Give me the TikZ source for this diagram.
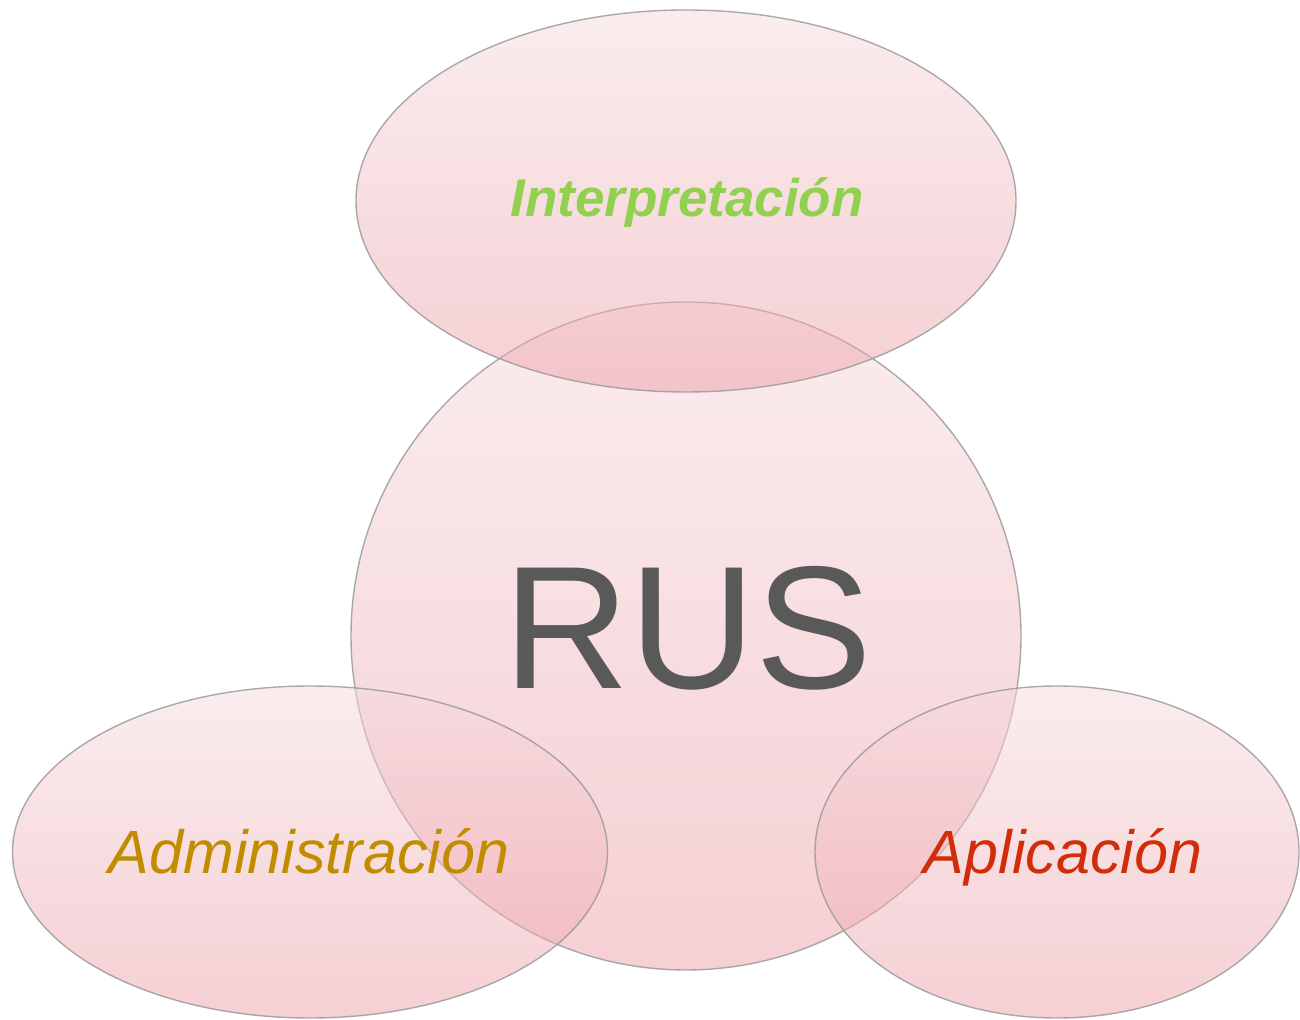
\documentclass[tikz,border=0pt]{standalone}
\usepackage{fontspec}
\setmainfont{Liberation Sans}
\usepackage{tikz}
\usetikzlibrary{shapes.geometric}

\definecolor{rimgray}{RGB}{150,150,150}
\definecolor{pinktop}{RGB}{246,218,222}
\definecolor{pinkbot}{RGB}{236,160,168}
\definecolor{interpgreen}{RGB}{146,208,80}
\definecolor{admingold}{RGB}{194,140,0}
\definecolor{aplicred}{RGB}{210,45,10}
\definecolor{rusgray}{RGB}{89,89,89}

\begin{document}
\begin{tikzpicture}[x=0.5pt,y=-0.5pt,
  blob/.style={ellipse,inner sep=0pt,draw=rimgray,line width=0.7pt,
    top color=pinktop,bottom color=pinkbot,fill opacity=0.5,draw opacity=0.8,
    text opacity=1},
  label/.style={anchor=base,inner sep=0pt,font=\fontsize{30.5}{36}\selectfont\itshape}]
  \useasboundingbox (0,0) rectangle (1300,1020);
  % central circle
  \node[blob,minimum width=335pt,minimum height=334pt] (rus) at (686,636)
    {};
  \node[anchor=base,inner sep=0pt,text=rusgray,font=\fontsize{87.5}{96}\selectfont]
    (rustext) at (688,688) {RUS};
  % three around it
  \node[blob,minimum width=330pt,minimum height=191pt] (interp) at (686,201) {};
  \node[blob,minimum width=297.5pt,minimum height=166pt] (admin) at (310,852) {};
  \node[blob,minimum width=242pt,minimum height=166pt] (aplic) at (1057,852) {};
  % texts
  \node[anchor=base,inner sep=0pt,text=interpgreen,
    font=\fontsize{26.5}{32}\selectfont\bfseries\itshape] (interptext)
    at (687,217) {Interpretación};
  \node[label,text=admingold] (admintext) at (309,873) {Administración};
  \node[label,text=aplicred] (aplictext) at (1063,873) {Aplicación};
\end{tikzpicture}
\end{document}
